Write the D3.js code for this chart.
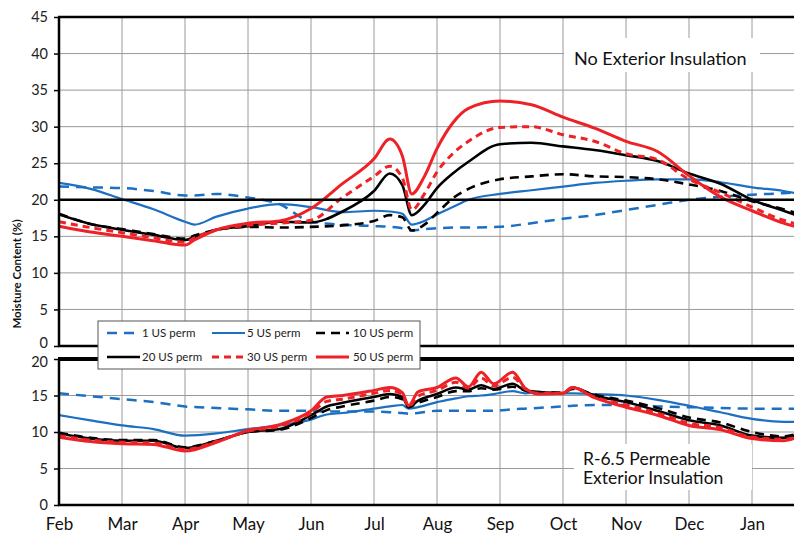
<!DOCTYPE html>
<html>
<head>
<meta charset="utf-8">
<script src="https://cdn.jsdelivr.net/npm/d3@7"></script>
<style>
  body { margin: 0; background: #fff; }
  svg { display: block; font-family: Lato, "Open Sans", sans-serif; }
</style>
</head>
<body>
<svg id="chart" width="794" height="535"></svg>
<script>
// month labels, one per gridline (x = months since Feb 1)
var months = ["Feb", "Mar", "Apr", "May", "Jun", "Jul", "Aug", "Sep", "Oct", "Nov", "Dec", "Jan"];
var topTicks = [0, 5, 10, 15, 20, 25, 30, 35, 40, 45];
var bottomTicks = [0, 5, 10, 15, 20];
var seriesNames = ["1 US perm", "5 US perm", "10 US perm", "20 US perm", "30 US perm", "50 US perm"];

// top panel: No Exterior Insulation
var topX = [0, 0.5, 1, 1.5, 2, 2.15, 2.5, 3, 3.5, 4, 4.5, 5, 5.25, 5.45, 5.6, 5.8, 6, 6.25, 6.5, 7, 7.5, 8, 8.5, 9, 9.5, 10, 10.5, 11, 11.5, 11.7];
var top1  = [21.8, 21.7, 21.6, 21.2, 20.6, 20.6, 20.8, 20.3, 19.4, 17.0, 16.6, 16.4, 16.3, 16.1, 15.8, 16.0, 16.1, 16.2, 16.2, 16.3, 16.8, 17.4, 17.9, 18.6, 19.3, 20.0, 20.4, 20.7, 20.9, 21.0];
var top5  = [22.3, 21.5, 20.1, 18.7, 17.0, 16.6, 17.7, 18.8, 19.4, 19.0, 18.3, 18.5, 18.4, 18.1, 16.6, 17.1, 18.0, 19.0, 20.0, 20.8, 21.3, 21.8, 22.3, 22.6, 22.8, 22.8, 22.4, 21.7, 21.2, 20.9];
var top10 = [18.1, 16.7, 16.0, 15.3, 14.7, 15.1, 15.9, 16.3, 16.2, 16.3, 16.5, 17.1, 17.9, 17.6, 15.8, 16.6, 18.2, 20.2, 21.5, 22.8, 23.2, 23.5, 23.2, 23.1, 22.8, 22.1, 21.2, 19.8, 18.7, 18.2];
var top20 = [18.0, 16.7, 15.9, 15.2, 14.5, 14.9, 15.9, 16.4, 17.0, 16.9, 18.4, 21.2, 23.6, 22.0, 17.9, 19.3, 21.6, 23.6, 25.2, 27.6, 27.8, 27.3, 26.8, 26.1, 25.3, 23.6, 22.2, 20.0, 18.5, 17.9];
var top30 = [17.0, 16.2, 15.5, 14.8, 14.2, 14.8, 15.9, 16.5, 16.8, 17.2, 20.3, 23.2, 24.6, 23.0, 18.6, 20.8, 23.8, 26.3, 28.0, 29.9, 30.0, 28.9, 28.0, 26.3, 25.5, 22.8, 21.0, 19.0, 17.2, 16.7];
var top50 = [16.4, 15.6, 15.0, 14.4, 13.8, 14.5, 15.9, 16.8, 17.1, 18.8, 22.2, 25.6, 28.3, 26.0, 20.8, 23.2, 27.0, 30.5, 32.5, 33.5, 33.0, 31.3, 29.8, 28.0, 26.6, 23.3, 20.4, 18.5, 16.8, 16.3];

// bottom panel: R-6.5 Permeable Exterior Insulation
var botX = [0, 0.5, 1, 1.5, 2, 2.5, 3, 3.5, 4, 4.25, 4.5, 5, 5.25, 5.45, 5.55, 5.7, 6, 6.3, 6.5, 6.7, 6.9, 7.2, 7.4, 7.6, 8, 8.15, 8.5, 9, 9.5, 10, 10.5, 11, 11.5, 11.7];
var bot1  = [15.3, 14.9, 14.5, 14.1, 13.5, 13.3, 13.1, 12.9, 12.9, 12.8, 12.8, 12.8, 12.7, 12.6, 12.5, 12.6, 12.9, 12.9, 12.9, 12.9, 12.9, 13.1, 13.2, 13.3, 13.5, 13.6, 13.7, 13.7, 13.5, 13.4, 13.3, 13.2, 13.2, 13.2];
var bot5  = [12.3, 11.6, 10.9, 10.4, 9.5, 9.8, 10.4, 10.9, 11.7, 12.4, 12.6, 13.2, 13.5, 13.7, 13.2, 13.4, 14.1, 14.6, 14.9, 15.0, 15.2, 15.6, 15.3, 15.4, 15.3, 15.3, 15.2, 15.0, 14.4, 13.6, 12.7, 11.8, 11.4, 11.4];
var bot10 = [9.9, 9.2, 8.9, 8.9, 7.9, 8.8, 10.0, 10.3, 11.9, 13.0, 13.5, 14.3, 14.8, 14.5, 13.4, 14.0, 14.8, 15.6, 15.6, 16.0, 15.8, 16.2, 15.7, 15.4, 15.4, 15.9, 15.1, 14.3, 13.3, 12.0, 11.3, 10.0, 9.4, 9.7];
var bot20 = [9.8, 9.1, 8.8, 8.8, 7.8, 8.8, 10.0, 10.4, 12.3, 13.5, 14.0, 14.8, 15.2, 14.8, 13.4, 14.3, 15.2, 16.1, 15.8, 16.4, 15.9, 16.6, 15.7, 15.5, 15.3, 16.1, 15.0, 14.1, 12.9, 11.6, 10.9, 9.5, 9.2, 9.5];
var bot30 = [9.5, 8.9, 8.6, 8.5, 7.6, 8.7, 10.1, 10.8, 12.6, 14.2, 14.5, 15.3, 15.7, 15.1, 13.5, 14.9, 15.7, 16.8, 16.0, 17.4, 16.3, 17.5, 15.9, 15.3, 15.3, 16.1, 14.8, 13.7, 12.6, 11.2, 10.6, 9.3, 9.0, 9.3];
var bot50 = [9.3, 8.7, 8.4, 8.3, 7.4, 8.6, 10.2, 11.0, 12.9, 14.8, 15.0, 15.7, 16.1, 15.4, 13.6, 15.5, 16.1, 17.4, 16.2, 18.2, 16.6, 18.2, 16.0, 15.2, 15.3, 16.1, 14.7, 13.4, 12.3, 10.9, 10.3, 9.1, 8.8, 9.2];

var blue = "#1c6fc1", red = "#ee2226";
var styles = [
  { color: blue,   width: 2.5, dash: "10,7" },
  { color: blue,   width: 2.2, dash: null },
  { color: "#000", width: 2.6, dash: "9,6" },
  { color: "#000", width: 2.6, dash: null },
  { color: red,    width: 3,   dash: "7,5" },
  { color: red,    width: 3,   dash: null }
];

var svg = d3.select("#chart");
var left = 59, right = 794;

var x = d3.scaleLinear().domain([0, 12]).range([left, left + 63 * 12]);
var yTop = d3.scaleLinear().domain([0, 45]).range([346, 17]);
var yBot = d3.scaleLinear().domain([0, 20]).range([505, 359]);

function panel(y, ticks, xs, data, id, nudge) {
  var g = svg.append("g");
  var y0 = y.range()[0], y1 = y.range()[1];

  // grid
  g.selectAll(".hg").data(ticks).enter().append("line")
    .attr("x1", left).attr("x2", right)
    .attr("y1", function(d) { return y(d); }).attr("y2", function(d) { return y(d); })
    .attr("stroke", "#9a9a9a").attr("stroke-width", 1);
  g.selectAll(".vg").data(d3.range(1, 12)).enter().append("line")
    .attr("x1", function(d) { return x(d); }).attr("x2", function(d) { return x(d); })
    .attr("y1", y1).attr("y2", y0)
    .attr("stroke", "#9a9a9a").attr("stroke-width", 1);

  // clip
  svg.append("clipPath").attr("id", id).append("rect")
    .attr("x", left).attr("y", y1).attr("width", right - left).attr("height", y0 - y1);

  var line = d3.line()
    .x(function(d) { return x(d[0]); })
    .y(function(d) { return y(d[1]); })
    .curve(d3.curveMonotoneX);

  var lines = g.append("g").attr("clip-path", "url(#" + id + ")");
  data.forEach(function(vals, i) {
    var pts = xs.map(function(m, j) { return [m, vals[j]]; });
    lines.append("path")
      .attr("d", line(pts))
      .attr("fill", "none")
      .attr("stroke", styles[i].color)
      .attr("stroke-width", styles[i].width)
      .attr("stroke-dasharray", styles[i].dash)
      .attr("stroke-linejoin", "round");
  });

  // y axis
  var ax = g.append("g").attr("transform", "translate(" + left + ",0)")
    .call(d3.axisLeft(y).tickValues(ticks).tickSize(5).tickPadding(6));
  ax.select(".domain").remove();
  ax.selectAll("line").attr("stroke", "#000").attr("stroke-width", 1.5);
  ax.selectAll("text").attr("font-size", 14.5).attr("fill", "#222").attr("font-family", "Lato, sans-serif");
  // keep the touching "0" / "20" labels between the panels apart
  ax.selectAll("text").filter(function(d) { return d === nudge.value; })
    .attr("dy", nudge.dy);

  g.append("line").attr("x1", left).attr("x2", left).attr("y1", y1).attr("y2", y0)
    .attr("stroke", "#000").attr("stroke-width", 2.5);
  g.append("line").attr("x1", left - 1).attr("x2", right).attr("y1", y0).attr("y2", y0)
    .attr("stroke", "#000").attr("stroke-width", 2.5);
  return g;
}

var gTop = panel(yTop, topTicks, topX, [top1, top5, top10, top20, top30, top50], "clipTop", { value: 0, dy: "0.1em" });
var gBot = panel(yBot, bottomTicks, botX, [bot1, bot5, bot10, bot20, bot30, bot50], "clipBot", { value: 20, dy: "0.5em" });

// borders and 20% reference line
svg.append("line").attr("x1", left - 1).attr("x2", right).attr("y1", yTop(45)).attr("y2", yTop(45))
  .attr("stroke", "#000").attr("stroke-width", 2.5);
svg.append("line").attr("x1", left).attr("x2", right).attr("y1", yTop(20)).attr("y2", yTop(20))
  .attr("stroke", "#000").attr("stroke-width", 2.5);
svg.append("line").attr("x1", left - 1).attr("x2", right).attr("y1", yBot(20)).attr("y2", yBot(20))
  .attr("stroke", "#000").attr("stroke-width", 4);

// month axis
var xa = svg.append("g").attr("transform", "translate(0,505)")
  .call(d3.axisBottom(x).tickValues(d3.range(0, 12)).tickFormat(function(d) { return months[d]; })
    .tickSize(0).tickPadding(13));
xa.select(".domain").remove();
xa.selectAll("text").attr("font-size", 17).attr("fill", "#111").attr("font-family", "Lato, sans-serif");

// y axis title
svg.append("text")
  .attr("transform", "translate(21,274) rotate(-90)")
  .attr("text-anchor", "middle")
  .attr("font-size", 11.5).attr("font-weight", "bold").attr("fill", "#111")
  .text("Moisture Content (%)");

// legend
var lg = svg.append("g");
lg.append("rect").attr("x", 98).attr("y", 321).attr("width", 322).attr("height", 48)
  .attr("fill", "#fff").attr("stroke", "#555").attr("stroke-width", 1);
var colX = [107, 212, 316], txtX = [142, 247, 353], rowY = [333, 357];
seriesNames.forEach(function(name, i) {
  var c = i % 3, r = Math.floor(i / 3);
  lg.append("line")
    .attr("x1", colX[c]).attr("x2", colX[c] + 33)
    .attr("y1", rowY[r]).attr("y2", rowY[r])
    .attr("stroke", styles[i].color).attr("stroke-width", styles[i].width)
    .attr("stroke-dasharray", styles[i].dash);
  lg.append("text").attr("x", txtX[c]).attr("y", rowY[r] + 4)
    .attr("font-size", 11.5).attr("fill", "#222").text(name);
});

// panel notes
svg.append("rect").attr("x", 564).attr("y", 38).attr("width", 196).attr("height", 34).attr("fill", "#fff");
svg.append("text").attr("x", 574).attr("y", 65).attr("font-size", 18).attr("fill", "#111")
  .text("No Exterior Insulation");

svg.append("rect").attr("x", 574).attr("y", 444).attr("width", 178).attr("height", 46).attr("fill", "#fff");
svg.append("text").attr("x", 583).attr("y", 465).attr("font-size", 17.5).attr("fill", "#111")
  .text("R-6.5 Permeable");
svg.append("text").attr("x", 583).attr("y", 484).attr("font-size", 17.5).attr("fill", "#111")
  .text("Exterior Insulation");
</script>
</body>
</html>
